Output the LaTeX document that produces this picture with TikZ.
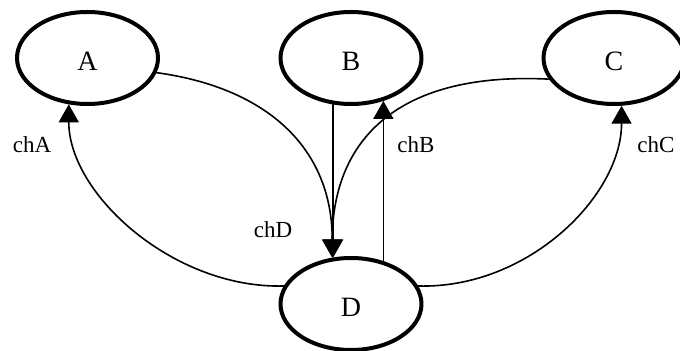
\documentclass[tikz,border=0pt]{standalone}
\usepackage{fontspec}
\setmainfont{Liberation Serif}
\usetikzlibrary{arrows.meta,shapes.geometric}

\begin{document}
\begin{tikzpicture}[x=0.5pt,y=-0.5pt,line cap=round,line join=round,
  state/.style={ellipse,draw=black,line width=2pt,inner sep=0pt,minimum width=70.5pt,minimum height=46pt,
    font=\fontsize{14}{16}\selectfont,text height=13pt,text depth=0pt},
  chan/.style={black,line width=0.8pt,-{Triangle[length=9pt,width=10pt]}},
  lbl/.style={font=\fontsize{11.5}{13}\selectfont}]
\useasboundingbox (0,0) rectangle (680,351);
% the four processes
\node[state] (A) at (87.5,58) {A};
\node[state] (B) at (351,58) {B};
\node[state] (C) at (614,58) {C};
\node[state] (D) at (351,304) {D};
% channels into D
\draw[chan] (A.-12) .. controls +(110,15) and +(0,-110) .. (D.112);
\draw[chan] (C.-162) .. controls +(-160,-8) and +(0,-110) .. (D.112);
\draw[chan] (B.-111) -- (D.111);
% channels out of D
\draw[chan] (D.53) -- (B.-53);
\draw[chan] (D.165) .. controls +(-110,3) and +(0,90) .. (A.-112);
\draw[chan] (D.15) .. controls +(110,3) and +(0,90) .. (C.-81);
% channel names
\node[lbl] (chA) at (32,145) {chA};
\node[lbl] (chB) at (416,145) {chB};
\node[lbl] (chC) at (656,145) {chC};
\node[lbl] (chD) at (273,230) {chD};
\end{tikzpicture}
\end{document}
